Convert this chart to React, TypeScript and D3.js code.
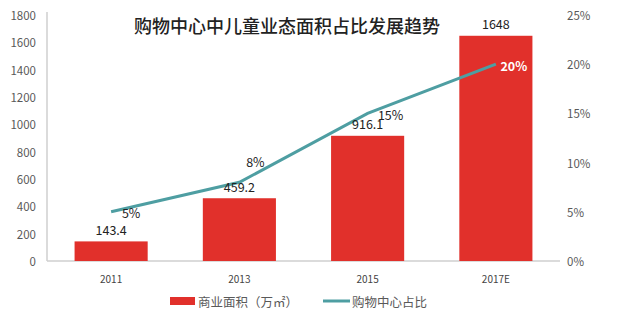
import React from "react";
import * as d3 from "d3";

const categories = ["2011", "2013", "2015", "2017E"];
const areaValues = [143.4, 459.2, 916.1, 1648];
const areaLabels = ["143.4", "459.2", "916.1", "1648"];
const shareValues = [0.05, 0.08, 0.15, 0.2];
const shareLabels = ["5%", "8%", "15%", "20%"];
const leftTicks = [0, 200, 400, 600, 800, 1000, 1200, 1400, 1600, 1800];
const rightTicks = [0, 0.05, 0.1, 0.15, 0.2, 0.25];
const title = "购物中心中儿童业态面积占比发展趋势";
const legendBar = "商业面积（万㎡）";
const legendLine = "购物中心占比";

const W = 640;
const H = 324;
const left = 47;
const right = 560;
const top = 15;
const bottom = 261;
const FONT = "'Noto Sans CJK SC', 'Noto Sans', sans-serif";
const RED = "#e1302b";
const TEAL = "#4e9ea2";
const GRAY = "#595959";

// label offsets relative to anchor point [dx, dy]
const shareLabelOffsets: [number, number][] = [[20, 1], [16, -21], [23, 1], [18, 1]];

export default function App() {
  const x = d3.scaleBand<string>().domain(categories).range([left, right]).paddingInner(0.43).paddingOuter(0.215);
  const yL = d3.scaleLinear().domain([0, 1800]).range([bottom, top]);
  const yR = d3.scaleLinear().domain([0, 0.25]).range([bottom, top]);
  const cx = (c: string) => (x(c) as number) + x.bandwidth() / 2;
  const line = d3
    .line<number>()
    .x((_, i) => cx(categories[i]))
    .y((d) => yR(d));

  return (
    <svg width={W} height={H} style={{ position: "absolute", left: 0, top: 0, background: "#fff" }} fontFamily={FONT}>
      <rect x={0} y={0} width={W} height={H} fill="#fff" />
      {/* axes */}
      <line x1={left} x2={left} y1={top - 3} y2={bottom} stroke="#cfcfcf" strokeWidth={1.5} />
      <line x1={left} x2={right} y1={bottom} y2={bottom} stroke="#cfcfcf" strokeWidth={1.5} />
      {leftTicks.map((t) => (
        <text key={t} x={36} y={yL(t)} textAnchor="end" dominantBaseline="central" fontSize={11.5} fill={GRAY}>
          {t}
        </text>
      ))}
      {rightTicks.map((t) => (
        <text key={t} x={567} y={yR(t)} textAnchor="start" dominantBaseline="central" fontSize={11.5} fill={GRAY}>
          {d3.format(".0%")(t)}
        </text>
      ))}
      {categories.map((c) => (
        <text key={c} x={cx(c)} y={278} textAnchor="middle" dominantBaseline="central" fontSize={10} fill="#444">
          {c}
        </text>
      ))}
      {/* bars */}
      {categories.map((c, i) => (
        <rect key={c} x={x(c)} y={yL(areaValues[i])} width={x.bandwidth()} height={bottom - yL(areaValues[i])} fill={RED} />
      ))}
      {/* line */}
      <path d={line(shareValues) || ""} fill="none" stroke={TEAL} strokeWidth={3} />
      {/* bar labels */}
      {categories.map((c, i) => (
        <text key={c} x={cx(c)} y={yL(areaValues[i]) - 12} textAnchor="middle" dominantBaseline="central" fontSize={12.5} fill="#222">
          {areaLabels[i]}
        </text>
      ))}
      {/* share labels */}
      {categories.map((c, i) => (
        <text
          key={c}
          x={cx(c) + shareLabelOffsets[i][0]}
          y={yR(shareValues[i]) + shareLabelOffsets[i][1]}
          textAnchor="middle"
          dominantBaseline="central"
          fontSize={12.5}
          fontWeight={i === 3 ? "bold" : "normal"}
          fill={i === 3 ? "#fff" : "#222"}
        >
          {shareLabels[i]}
        </text>
      ))}
      {/* title */}
      <text x={287} y={25} textAnchor="middle" dominantBaseline="central" fontSize={18} fontWeight={500} fill="#222">
        {title}
      </text>
      {/* legend */}
      <rect x={170} y={297} width={25} height={8} fill={RED} />
      <text x={198} y={301} dominantBaseline="central" fontSize={12.5} fill={GRAY}>
        {legendBar}
      </text>
      <line x1={323} x2={350} y1={301} y2={301} stroke={TEAL} strokeWidth={3} />
      <text x={352} y={301} dominantBaseline="central" fontSize={12.5} fill={GRAY}>
        {legendLine}
      </text>
    </svg>
  );
}
